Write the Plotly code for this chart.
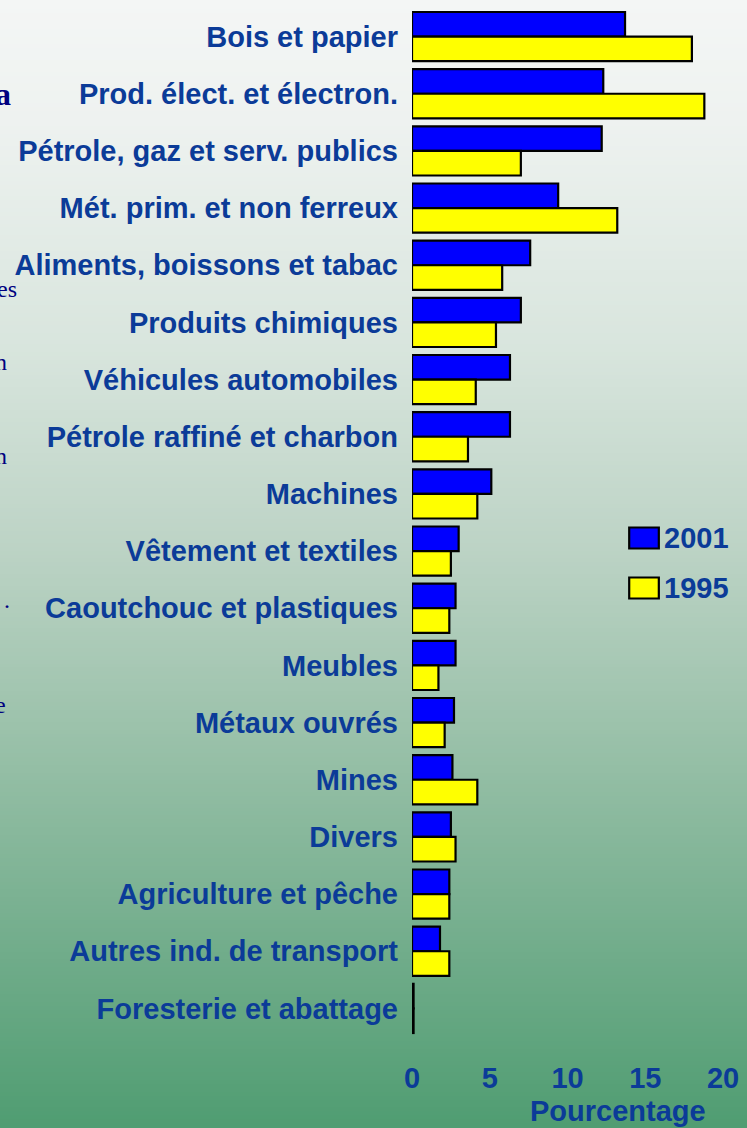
import base64, struct, zlib
import plotly.graph_objects as go

categories = ["Bois et papier", "Prod. élect. et électron.", "Pétrole, gaz et serv. publics",
              "Mét. prim. et non ferreux", "Aliments, boissons et tabac", "Produits chimiques",
              "Véhicules automobiles", "Pétrole raffiné et charbon", "Machines",
              "Vêtement et textiles", "Caoutchouc et plastiques", "Meubles", "Métaux ouvrés",
              "Mines", "Divers", "Agriculture et pêche", "Autres ind. de transport",
              "Foresterie et abattage"]
values_2001 = [13.7, 12.3, 12.2, 9.4, 7.6, 7.0, 6.3, 6.3, 5.1, 3.0, 2.8, 2.8, 2.7, 2.6, 2.5, 2.4, 1.8, 0.1]
values_1995 = [18.0, 18.8, 7.0, 13.2, 5.8, 5.4, 4.1, 3.6, 4.2, 2.5, 2.4, 1.7, 2.1, 4.2, 2.8, 2.4, 2.4, 0.1]
series_names = ["2001", "1995"]
series_colors = ["#0000FF", "#FFFF00"]
x_ticks = [0, 5, 10, 15, 20]
x_title = "Pourcentage"

NAVY = "#0b3b98"
FS = 29
W, H = 747, 1128
L, R, T, B = 412, 20, 8, 91
PW, PH = W - L - R, H - T - B


def px_x(px):
    return (px - L) / PW


def px_y(py):
    return 1 - (py - T) / PH


# vertical background gradient as a stretched PNG
stops = [(0, (244, 246, 245)), (120, (238, 242, 240)), (350, (216, 229, 221)),
         (550, (188, 211, 197)), (750, (152, 192, 168)), (980, (108, 170, 135)),
         (1128, (80, 157, 114))]


def grad_color(y):
    y = min(max(y, 0), H)
    for (y0, c0), (y1, c1) in zip(stops[:-1], stops[1:]):
        if y0 <= y <= y1:
            t = (y - y0) / (y1 - y0)
            return tuple(int(round(a + (b - a) * t)) for a, b in zip(c0, c1))
    return stops[-1][1]


EXT = 20  # image extends beyond the canvas on every side


def make_png():
    n = 300
    w = 8
    rows = []
    for i in range(n):
        y = -EXT + i * (H + 2 * EXT) / (n - 1)
        rows.append(b"\x00" + bytes(grad_color(y)) * w)
    raw = b"".join(rows)

    def chunk(tag, data):
        c = struct.pack(">I", len(data)) + tag + data
        return c + struct.pack(">I", zlib.crc32(tag + data) & 0xffffffff)
    png = b"\x89PNG\r\n\x1a\n" + chunk(b"IHDR", struct.pack(">IIBBBBB", w, n, 8, 2, 0, 0, 0))
    png += chunk(b"IDAT", zlib.compress(raw)) + chunk(b"IEND", b"")
    return "data:image/png;base64," + base64.b64encode(png).decode()


fig = go.Figure()
for name, vals, col in zip(series_names, [values_2001, values_1995], series_colors):
    fig.add_trace(go.Bar(y=categories, x=vals, name=name, orientation="h",
                         marker=dict(color=col, line=dict(color="black", width=2.2)),
                         showlegend=False))

annotations = []
shapes = []
# custom legend
for i, (name, col) in enumerate(zip(series_names, series_colors)):
    yc = 538 + 50 * i
    shapes.append(dict(type="rect", xref="paper", yref="paper",
                       x0=px_x(632), x1=px_x(662), y0=px_y(yc + 10.5), y1=px_y(yc - 10.5),
                       fillcolor=col, line=dict(color="black", width=2.2)))
    annotations.append(dict(text=name, xref="paper", yref="paper", x=px_x(665), y=px_y(yc),
                            xanchor="left", yanchor="middle", showarrow=False,
                            font=dict(family="Liberation Sans", size=FS, color=NAVY, weight="bold")))
# axis title
annotations.append(dict(text=x_title, xref="paper", yref="paper", x=px_x(621), y=px_y(1111),
                        xanchor="center", yanchor="middle", showarrow=False,
                        font=dict(family="Liberation Sans", size=FS, color=NAVY, weight="bold")))
# cut-off fragments of slide text at the left edge
fragments = [("a", 8, 94, 32, True), ("es", 14, 289, 24, False), ("n", 4, 362, 24, False),
             ("n", 4, 456, 24, False), (".", 7, 600, 24, False), ("e", 3, 705, 24, False)]
for txt, xr, yc, sz, bold in fragments:
    annotations.append(dict(text=txt, xref="paper", yref="paper", x=px_x(xr), y=px_y(yc),
                            xanchor="right", yanchor="middle", showarrow=False,
                            font=dict(family="Liberation Serif", size=sz, color="#000080",
                                      weight="bold" if bold else "normal")))

fig.update_layout(
    width=W, height=H,
    margin=dict(l=L, r=R, t=T, b=B, pad=0),
    paper_bgcolor="rgb(190,212,198)", plot_bgcolor="rgba(0,0,0,0)",
    barmode="group", bargap=0.14, bargroupgap=0,
    images=[dict(source=make_png(), xref="paper", yref="paper", x=px_x(-EXT), y=px_y(-EXT),
                 sizex=(W + 2 * EXT) / PW, sizey=(H + 2 * EXT) / PH, sizing="stretch",
                 xanchor="left", yanchor="top", layer="below")],
    shapes=shapes, annotations=annotations,
    xaxis=dict(range=[0, 20], tickvals=x_ticks, showgrid=False, zeroline=False, showline=False,
               ticks="", ticklabelstandoff=21,
               tickfont=dict(family="Liberation Sans", size=FS, color=NAVY, weight="bold")),
    yaxis=dict(autorange="reversed", showgrid=False, zeroline=False, showline=False,
               ticks="", ticklabelstandoff=13,
               tickfont=dict(family="Liberation Sans", size=FS, color=NAVY, weight="bold")),
)
fig.write_html("out.html", config={"displayModeBar": False},
               post_script="document.body.style.margin='0';document.body.style.overflow='hidden';")
